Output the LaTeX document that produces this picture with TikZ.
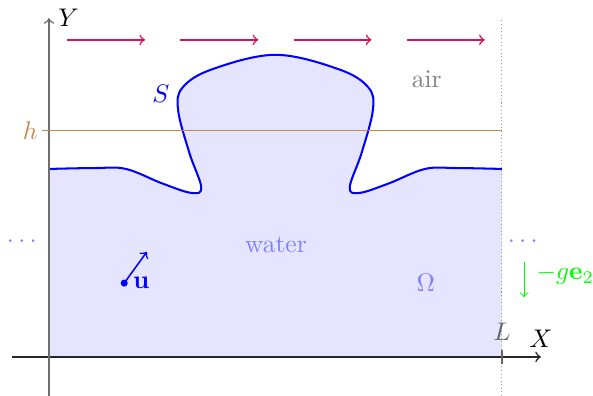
\documentclass[tikz,border=0pt]{standalone}
\usepackage{xcolor}
\usepackage{tikz}
\usetikzlibrary{calc}
\definecolor{windred}{HTML}{D4145A}
\definecolor{levelbrown}{HTML}{C4874A}
\definecolor{axisgray}{HTML}{6E6E6E}

\tikzset{
  surface/.style={blue, thick},
  windarrow/.style={windred, semithick, ->},
  faintlabel/.style={blue!50}
}

\begin{document}
\begin{tikzpicture}[x=0.625cm, y=0.625cm]
    \useasboundingbox (-1.082,-0.861) rectangle (12.01,7.88);
    % water
    \fill[blue!10] (0,0) -- plot[smooth, tension=0.6] coordinates {
      (0,4.15) (1.0,4.17) (1.7,4.15) (2.5,3.83) (3.15,3.62) (3.36,3.75) (3.1,4.5) (2.85,5.45)
      (2.95,5.95) (3.6,6.35) (5,6.67) (6.4,6.35) (7.05,5.95) (7.15,5.45) (6.9,4.5)
      (6.64,3.75) (6.85,3.62) (7.5,3.83) (8.3,4.15) (9.0,4.17) (10,4.15)} -- (10,0) -- cycle;
    \draw[surface] plot[smooth, tension=0.6] coordinates {
      (0,4.15) (1.0,4.17) (1.7,4.15) (2.5,3.83) (3.15,3.62) (3.36,3.75) (3.1,4.5) (2.85,5.45)
      (2.95,5.95) (3.6,6.35) (5,6.67) (6.4,6.35) (7.05,5.95) (7.15,5.45) (6.9,4.5)
      (6.64,3.75) (6.85,3.62) (7.5,3.83) (8.3,4.15) (9.0,4.17) (10,4.15)};
    % axes
    \coordinate (origin) at (0,0);
    \coordinate (xstart) at (-0.82,0);
    \coordinate (xend) at (10.86,0);
    \coordinate (ystart) at (0,-0.861);
    \coordinate (yend) at (0,7.48);
    \draw[black!40, densely dotted] (10,-0.861) -- (10,7.48);
    \draw[black!85, semithick, ->] (xstart) -- (xend) node[above, black] (xlab) {$X$};
    \draw[axisgray, semithick, ->] (ystart) -- (yend) node[right, black] (ylab) {$Y$};
    \draw[black!60, semithick] (10,-0.15) -- (10,0.15) node[above] (llab) {$L$};
    % level h
    \draw[levelbrown] (-0.16,5) node[left, inner sep=1.5pt] (hlab) {$h$} -- (10,5);
    % wind
    \foreach \k in {0,...,3}
      \draw[windarrow] ({0.4+2.5*\k},7) -- ({2.12+2.5*\k},7);
    % labels
    \node[blue] (slab) at (2.47,5.81) {$S$};
    \node[black!50] (airlab) at (8.34,6.14) {air};
    \node[faintlabel] (waterlab) at (5.01,2.47) {water};
    \node[faintlabel] (omegalab) at (8.32,1.63) {$\Omega$};
    \node[faintlabel] (ldots) at (-0.6,2.54) {$\cdots$};
    \node[faintlabel] (rdots) at (10.46,2.54) {$\cdots$};
    % velocity
    \coordinate (ubase) at (1.66,1.63);
    \coordinate (utip) at (2.16,2.32);
    \fill[blue] (ubase) circle (1.4pt);
    \draw[blue, semithick, ->] (ubase) -- (utip);
    \node[blue, right] (ulab) at (ubase) {$\mathbf{u}$};
    % gravity
    \coordinate (gtop) at (10.49,2.10);
    \coordinate (gbot) at (10.49,1.32);
    \draw[green, ->] (gtop) -- (gbot);
    \node[green, right] (glab) at (10.56,1.81) {$-g\mathbf{e}_2$};
\end{tikzpicture}
\end{document}
